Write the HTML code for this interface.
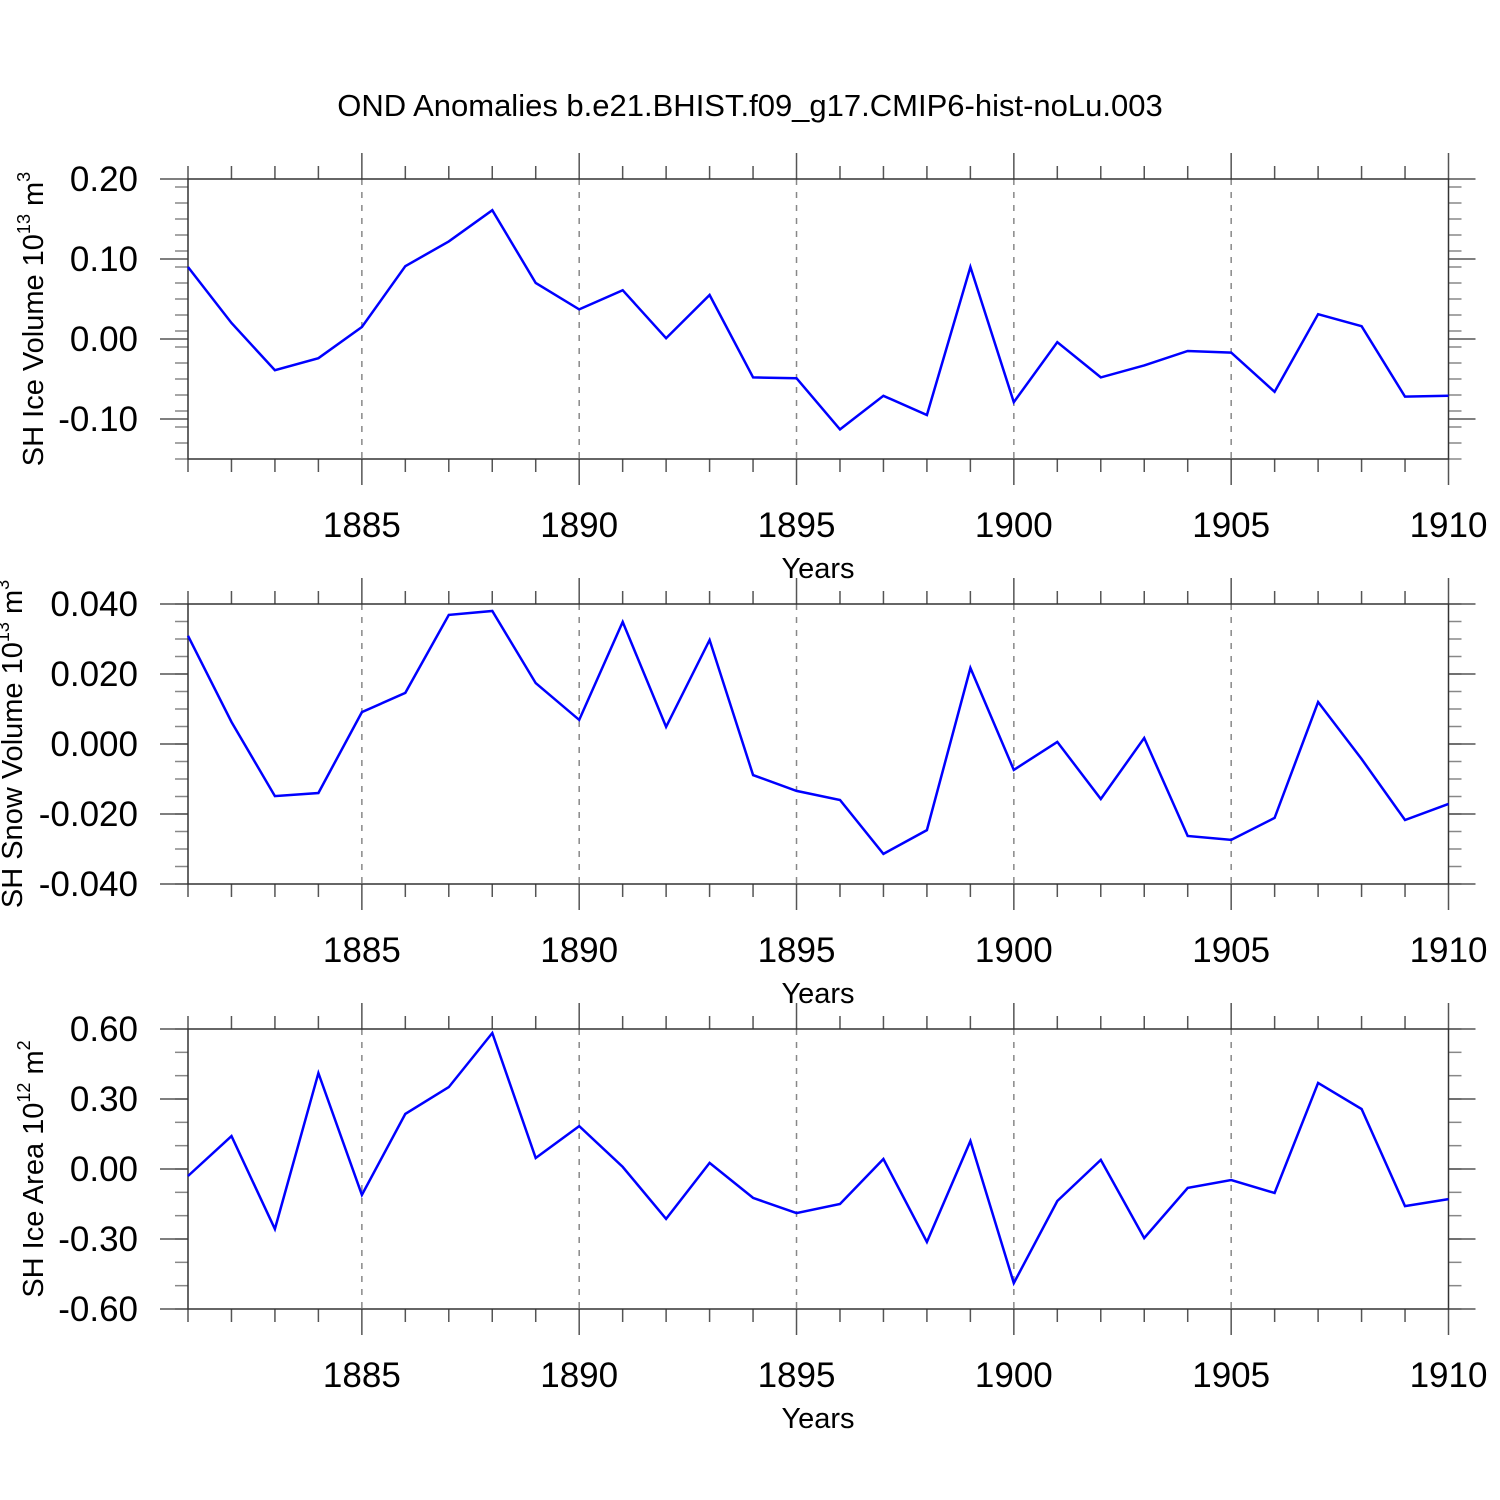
<!DOCTYPE html>
<html><head><meta charset="utf-8"><style>
html,body{margin:0;padding:0;background:#fff}
svg{display:block;font-family:"Liberation Sans",sans-serif}
</style></head><body>
<svg id="chart" width="1500" height="1500" viewBox="0 0 1500 1500">
<text x="750" y="116" font-size="31" text-anchor="middle">OND Anomalies b.e21.BHIST.f09_g17.CMIP6-hist-noLu.003</text>
</svg>
<script>
const years=[1881,1882,1883,1884,1885,1886,1887,1888,1889,1890,1891,1892,1893,1894,1895,1896,1897,1898,1899,1900,1901,1902,1903,1904,1905,1906,1907,1908,1909,1910];
const iceVolume=[0.09,0.02,-0.039,-0.024,0.015,0.091,0.122,0.161,0.07,0.037,0.061,0.001,0.055,-0.048,-0.049,-0.113,-0.071,-0.095,0.09,-0.079,-0.004,-0.048,-0.033,-0.015,-0.017,-0.066,0.031,0.016,-0.072,-0.071];
const snowVolume=[0.0309,0.0063,-0.0149,-0.014,0.0091,0.0146,0.0369,0.038,0.0174,0.0069,0.0349,0.0049,0.0297,-0.0089,-0.0134,-0.016,-0.0314,-0.0246,0.0217,-0.0074,0.0006,-0.0157,0.0017,-0.0263,-0.0274,-0.0211,0.012,-0.0043,-0.0217,-0.0171];
const iceArea=[-0.03,0.141,-0.257,0.411,-0.111,0.236,0.351,0.583,0.047,0.184,0.009,-0.214,0.026,-0.124,-0.189,-0.15,0.043,-0.313,0.12,-0.489,-0.137,0.039,-0.296,-0.081,-0.047,-0.103,0.369,0.257,-0.159,-0.129];
const xTickLabels=["1885","1890","1895","1900","1905","1910"];
const iceVolTicks=["0.20","0.10","0.00","-0.10"];
const snowTicks=["0.040","0.020","0.000","-0.020","-0.040"];
const areaTicks=["0.60","0.30","0.00","-0.30","-0.60"];

const NS="http://www.w3.org/2000/svg";
const svg=document.getElementById('chart');
const X0=188,X1=1448.5,YMIN=1881,YMAX=1910;
function xs(v){return X0+(v-YMIN)/(YMAX-YMIN)*(X1-X0);}
function mk(tag,attrs,parent){const e=document.createElementNS(NS,tag);for(const k in attrs)e.setAttribute(k,attrs[k]);(parent||svg).appendChild(e);return e;}

function panel(cfg){
  const g=mk('g',{});
  
  
  const top=cfg.top,bot=cfg.top+280;
  function ys(v){return bot-(v-cfg.min)/(cfg.max-cfg.min)*(bot-top);}
  const grey='#555';
  for(let y=1885;y<=1905;y+=5){
    const l=mk('line',{x1:xs(y),x2:xs(y),y1:top,y2:bot,stroke:'#888','stroke-width':1.5,'stroke-dasharray':'6 7'},g);
    
    
  }
  for(let y=YMIN;y<=YMAX;y++){
    const major=(y%5===0);const len=major?26:13;
    mk('line',{x1:xs(y),x2:xs(y),y1:top-len,y2:top,stroke:grey,'stroke-width':1.5},g);
    mk('line',{x1:xs(y),x2:xs(y),y1:bot,y2:bot+len,stroke:grey,'stroke-width':1.5},g);
  }
  for(let v=cfg.min;v<=cfg.max+1e-9;v+=cfg.minor){
    const yy=ys(v);
    mk('line',{x1:X0-13,x2:X0,y1:yy,y2:yy,stroke:'#888','stroke-width':1.5},g);
    mk('line',{x1:X1,x2:X1+13,y1:yy,y2:yy,stroke:'#888','stroke-width':1.5},g);
  }
  cfg.ticks.forEach(t=>{
    const v=parseFloat(t),yy=ys(v);
    mk('line',{x1:X0-28,x2:X0,y1:yy,y2:yy,stroke:grey,'stroke-width':1.5},g);
    mk('line',{x1:X1,x2:X1+27,y1:yy,y2:yy,stroke:grey,'stroke-width':1.5},g);
    const tx=mk('text',{x:138,y:yy+12,'font-size':35,'text-anchor':'end'},g);
    tx.textContent=t;
    
    
  });
  xTickLabels.forEach(t=>{
    const tx=mk('text',{x:xs(parseFloat(t)),y:bot+78,'font-size':35,'text-anchor':'middle'},g);
    tx.textContent=t;
    
    
  });
  const xt=mk('text',{x:818,y:bot+119,'font-size':29,'text-anchor':'middle'},g);
  xt.textContent='Years';
  
  
  const fr=mk('rect',{x:X0,y:top,width:X1-X0,height:280,fill:'none',stroke:'#333','stroke-width':1.5},g);
  
  
  const pts=years.map((y,i)=>xs(y).toFixed(1)+','+ys(cfg.data[i]).toFixed(1)).join(' ');
  const pl=mk('polyline',{points:pts,fill:'none',stroke:'#0000ff','stroke-width':2.5,'stroke-linejoin':'miter'},g);
  
  
  const cy=top+140;
  const yt=mk('text',{x:0,y:0,'font-size':29,'text-anchor':'middle',transform:'translate('+cfg.titleX+','+cy+') rotate(-90)'},g);
  yt.innerHTML=cfg.title+' 10<tspan font-size="18" dy="-13">'+cfg.exp+'</tspan><tspan dy="13"> m</tspan><tspan font-size="18" dy="-13">'+cfg.unitExp+'</tspan>';
  
  
}
panel({name:'ice-volume-panel',top:179,min:-0.15,max:0.20,minor:0.02,ticks:iceVolTicks,data:iceVolume,title:'SH Ice Volume',exp:'13',unitExp:'3',titleX:43});
panel({name:'snow-volume-panel',top:604,min:-0.04,max:0.04,minor:0.005,ticks:snowTicks,data:snowVolume,title:'SH Snow Volume',exp:'13',unitExp:'3',titleX:22});
panel({name:'ice-area-panel',top:1029,min:-0.6,max:0.6,minor:0.1,ticks:areaTicks,data:iceArea,title:'SH Ice Area',exp:'12',unitExp:'2',titleX:43});
</script>
</body></html>
